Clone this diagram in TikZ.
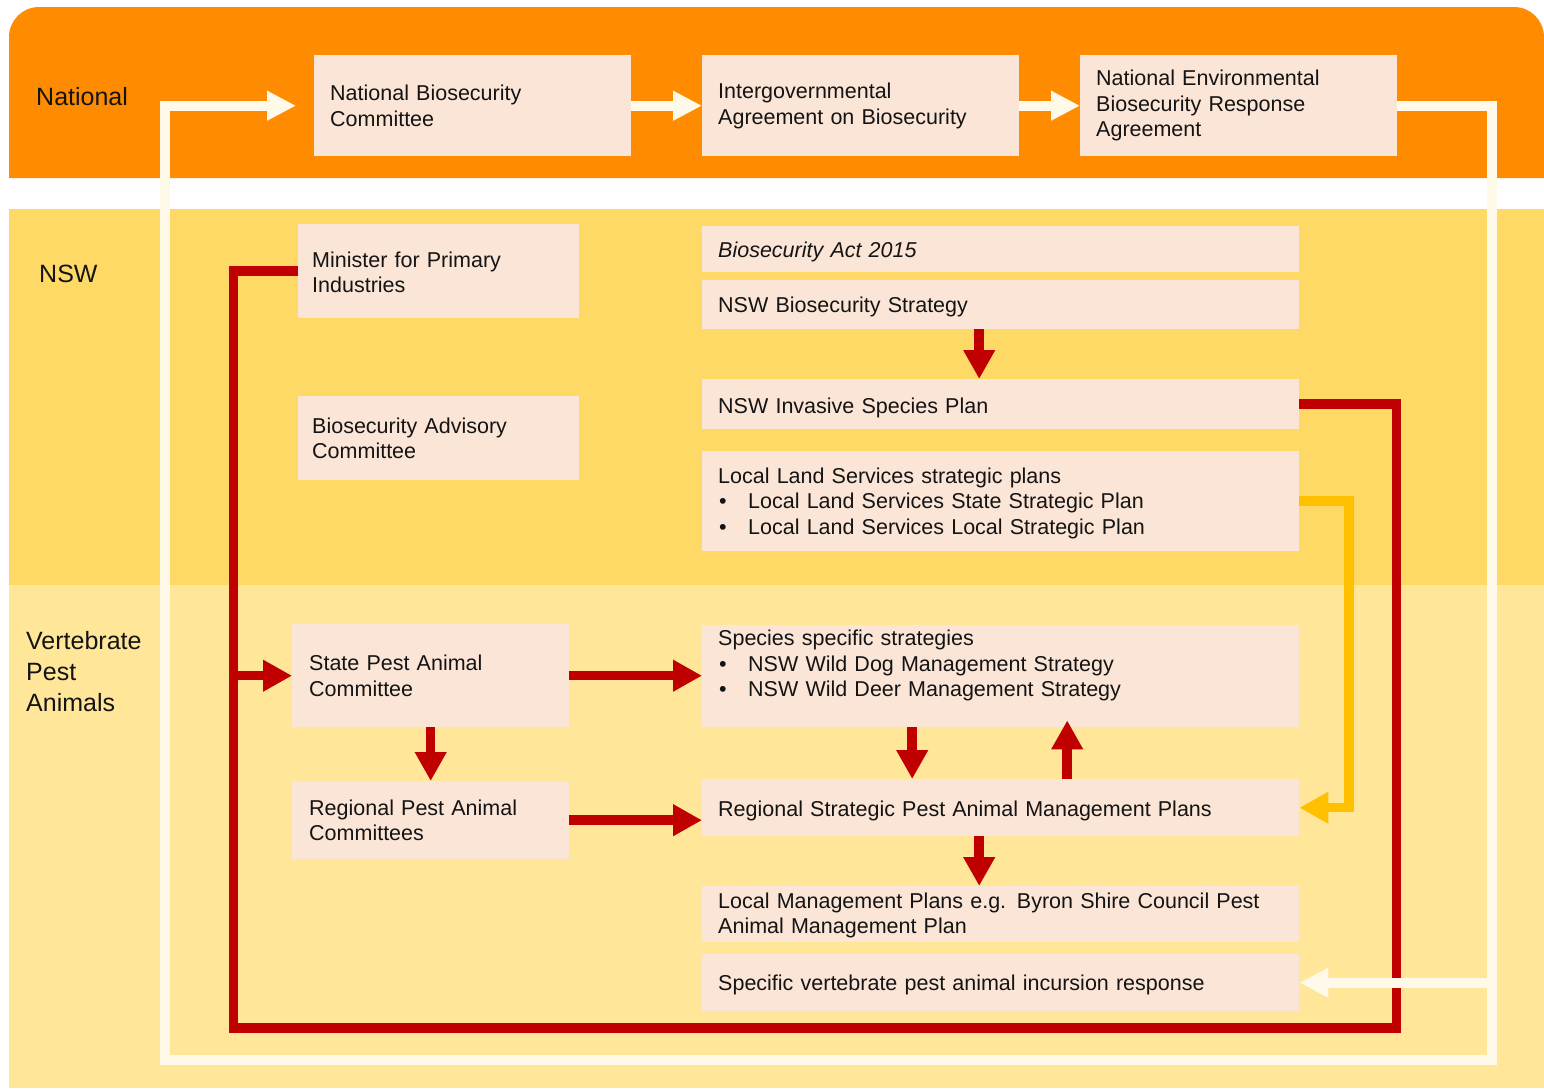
\documentclass[tikz,border=0pt]{standalone}
\usepackage{fontspec}
\setmainfont{Liberation Sans}
\usetikzlibrary{arrows.meta}
\definecolor{orangec}{HTML}{FF8C00}
\definecolor{nswc}{HTML}{FFD966}
\definecolor{vertc}{HTML}{FFE699}
\definecolor{boxc}{HTML}{FBE5D6}
\definecolor{redc}{HTML}{C00000}
\definecolor{yelc}{HTML}{FFC000}
\definecolor{creamc}{HTML}{FFF9EA}
\definecolor{txtc}{HTML}{141414}
\newcommand\bul{\makebox[30pt][l]{\hspace{1pt}\textbullet}}
\begin{document}
\begin{tikzpicture}[x=1pt,y=-1pt,
  box/.style={fill=boxc, draw=none, anchor=north west, inner xsep=16pt, inner ysep=0pt,
    align=left, text=txtc, font=\fontsize{21.5}{25.5}\selectfont},
  dn/.style={execute at begin node={\rule{0pt}{#1}}},
  lab/.style={inner sep=0pt, text=txtc, font=\fontsize{25}{31}\selectfont, align=left},
  redline/.style={draw=redc, line width=9.5pt},
  redarrow/.style={redline, -{Triangle[length=29pt,width=30pt]}},
  yelarrow/.style={draw=yelc, line width=9.5pt, -{Triangle[length=29pt,width=30pt]}},
  whiteline/.style={draw=creamc, line width=10pt},
  whitearrow/.style={whiteline, -{Triangle[length=29pt,width=28pt]}},
]
\useasboundingbox (0,0) rectangle (1544,1090);
\fill[white] (0,0) rectangle (1544,1090);
% bands
\fill[orangec] (9,178) [rounded corners=30pt] -- (9,7) -- (1544,7) [sharp corners] -- (1544,178) -- cycle;
\fill[nswc] (9,209) rectangle (1544,585);
\fill[vertc] (9,585) rectangle (1544,1088);
% band labels
\node[lab, anchor=base west] (lnat) at (36,105) {National};
\node[lab, anchor=base west] (lnsw) at (39,282) {NSW};
\node[lab, anchor=north west] (lvert) at (26,631) {Vertebrate\\Pest\\Animals};
% national boxes
\node[box, text width=285pt, minimum height=101pt] (nbc) at (314,55) {National Biosecurity\\Committee};
\node[box, text width=285pt, minimum height=101pt] (igab) at (702,55) {Intergovernmental\\Agreement on Biosecurity};
\node[box, text width=285pt, minimum height=101pt] (nebra) at (1080,55) {National Environmental\\Biosecurity Response\\Agreement};
% NSW boxes
\node[box, dn=18pt, inner xsep=14pt, text width=253pt, minimum height=94pt] (mn) at (298,224) {Minister for Primary\\Industries};
\node[box, inner xsep=14pt, text width=253pt, minimum height=84pt] (bac) at (298,396) {Biosecurity Advisory\\Committee};
\node[box, dn=22pt, text width=565pt, minimum height=46pt] (act) at (702,226) {\textit{Biosecurity Act 2015}};
\node[box, dn=20pt, text width=565pt, minimum height=49pt] (nswbs) at (702,280) {NSW Biosecurity Strategy};
\node[box, dn=24pt, text width=565pt, minimum height=50pt] (nisp) at (702,379) {NSW Invasive Species Plan};
\node[box, dn=20pt, text width=565pt, minimum height=100pt] (lls) at (702,451) {Local Land Services strategic plans\\\bul Local Land Services State Strategic Plan\\\bul Local Land Services Local Strategic Plan};
% vertebrate boxes
\node[box, inner xsep=17pt, text width=243pt, minimum height=103pt] (spac) at (292,624) {State Pest Animal\\Committee};
\node[box, inner xsep=17pt, text width=243pt, minimum height=78pt] (rpac) at (292,781) {Regional Pest Animal\\Committees};
\node[box, text width=565pt, minimum height=102pt] (sss) at (702,625) {Species specific strategies\\\bul NSW Wild Dog Management Strategy\\\bul NSW Wild Deer Management Strategy\\\mbox{}};
\node[box, dn=22pt, text width=565pt, minimum height=57pt] (rsp) at (702,779) {Regional Strategic Pest Animal Management Plans};
\node[box, dn=18pt, text width=565pt, minimum height=56pt] (lmp) at (702,886) {Local Management Plans e.g. Byron Shire Council Pest\\Animal Management Plan};
\node[box, dn=20pt, text width=565pt, minimum height=57pt] (svp) at (702,954) {Specific vertebrate pest animal incursion response};
% red connectors
\coordinate (rL) at (233.5,1028);
\coordinate (rR) at (1396.5,1028);
\draw[redline] (mn.west) -| (rL) -- (rR) |- (nisp.east);
\draw[redarrow] (spac.west -| rL) -- (spac.west);
\draw[redarrow] (spac.east) -- (spac.east -| sss.west);
\draw[redarrow] (spac.south) -- (rpac.north);
\draw[redarrow] (rpac.east) -- (rpac.east -| rsp.west);
\draw[redarrow] ([xshift=-21.5pt]nswbs.south) -- ([xshift=-21.5pt]nisp.north);
\draw[redarrow] ([xshift=-88.5pt]sss.south) -- ([xshift=-88.5pt]rsp.north);
\draw[redarrow] ([xshift=66.5pt]rsp.north) -- ([xshift=66.5pt,yshift=7pt]sss.south);
\draw[redarrow] ([xshift=-21.5pt]rsp.south) -- ([xshift=-21.5pt]lmp.north);
% yellow connector
\coordinate (yx) at (1349,0);
\draw[yelarrow] (lls.east) -- (lls.east -| yx) |- (rsp.east);
% white connectors
\coordinate (wR) at (1492,1060);
\coordinate (wL) at (165,1060);
\draw[whitearrow] (nbc.east) -- (igab.west);
\draw[whitearrow] (igab.east) -- (nebra.west);
\draw[whitearrow] (nebra.east) -| (wR) -- (wL) |- ([xshift=-18pt]nbc.west);
\draw[whitearrow] (svp.east -| wR) -- (svp.east);
\end{tikzpicture}
\end{document}
